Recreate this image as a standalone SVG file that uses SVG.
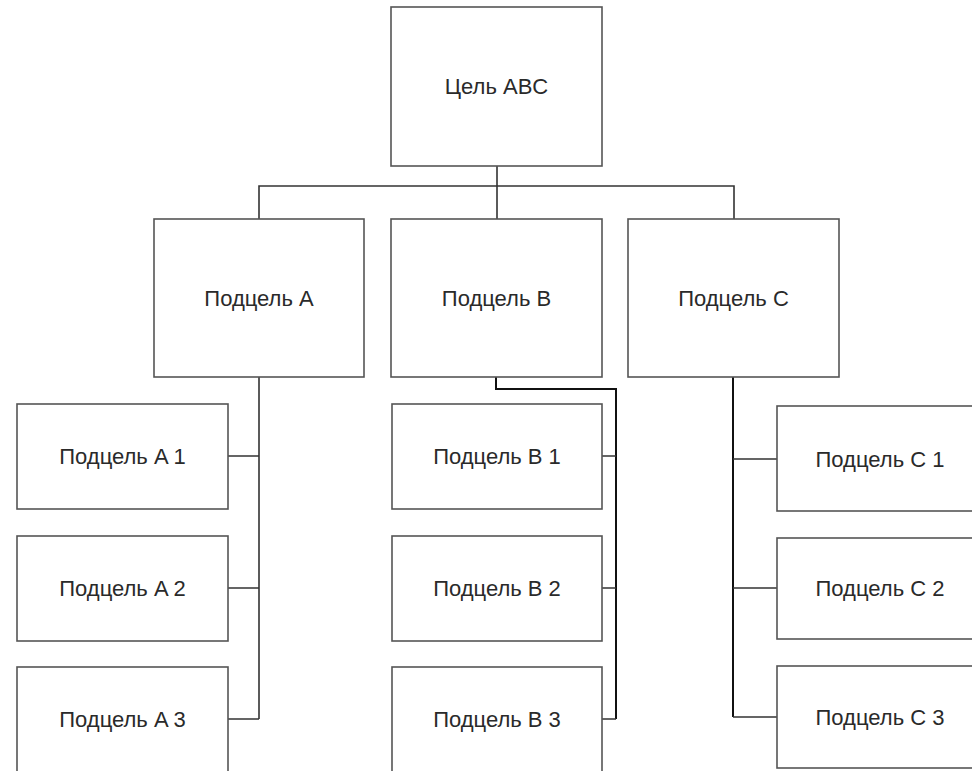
<svg xmlns="http://www.w3.org/2000/svg" width="972" height="771" viewBox="0 0 972 771">
<style>
.box{fill:#fff;stroke:#555;stroke-width:1.6}
.lbl{font-family:"Liberation Sans",Arial,sans-serif;font-size:22px;fill:#2a2a2a;text-anchor:middle;dominant-baseline:central}
.con{fill:none;stroke:#333;stroke-width:1.6}
.con2{fill:none;stroke:#111;stroke-width:2}
</style>
<rect width="972" height="771" fill="#fff"/>
<g id="connectors">
<path class="con" d="M497,166V219M259,219V186H734V219"/>
<path class="con" d="M259,377V719M228,456H259M228,588H259M228,719H259"/>
<path class="con2" d="M496,377V389H616V719"/>
<path class="con" d="M602,456H616M602,588H616M602,719H616"/>
<path class="con2" d="M733,377V717"/>
<path class="con" d="M733,459H777M733,588H777M733,717H777"/>
</g>
<g id="goal"><rect class="box" x="391" y="7" width="211" height="159"/><text class="lbl" x="496.5" y="86">Цель ABC</text></g>
<g id="subA"><rect class="box" x="154" y="219" width="210" height="158"/><text class="lbl" x="259" y="298">Подцель A</text></g>
<g id="subB"><rect class="box" x="391" y="219" width="211" height="158"/><text class="lbl" x="496.5" y="298">Подцель B</text></g>
<g id="subC"><rect class="box" x="628" y="219" width="211" height="158"/><text class="lbl" x="733.5" y="298">Подцель C</text></g>
<g id="subA1"><rect class="box" x="17" y="404" width="211" height="105"/><text class="lbl" x="122.5" y="456">Подцель A 1</text></g>
<g id="subA2"><rect class="box" x="17" y="536" width="211" height="105"/><text class="lbl" x="122.5" y="588">Подцель A 2</text></g>
<g id="subA3"><rect class="box" x="17" y="667" width="211" height="110"/><text class="lbl" x="122.5" y="719">Подцель A 3</text></g>
<g id="subB1"><rect class="box" x="392" y="404" width="210" height="105"/><text class="lbl" x="497" y="456">Подцель B 1</text></g>
<g id="subB2"><rect class="box" x="392" y="536" width="210" height="105"/><text class="lbl" x="497" y="588">Подцель B 2</text></g>
<g id="subB3"><rect class="box" x="392" y="667" width="210" height="110"/><text class="lbl" x="497" y="719">Подцель B 3</text></g>
<g id="subC1"><rect class="box" x="777" y="406" width="210" height="105"/><text class="lbl" x="880" y="459">Подцель C 1</text></g>
<g id="subC2"><rect class="box" x="777" y="538" width="210" height="101"/><text class="lbl" x="880" y="588">Подцель C 2</text></g>
<g id="subC3"><rect class="box" x="777" y="666" width="210" height="102"/><text class="lbl" x="880" y="717">Подцель C 3</text></g>
</svg>
